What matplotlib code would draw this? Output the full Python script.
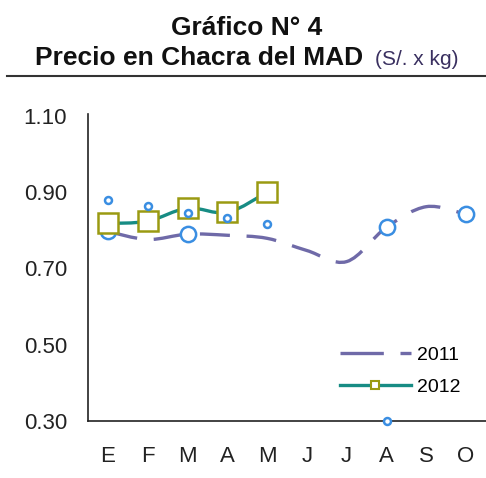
import numpy as np
import matplotlib
matplotlib.use("Agg")
import matplotlib.pyplot as plt
from matplotlib.path import Path
from matplotlib.patches import PathPatch
from matplotlib.lines import Line2D

plt.rcParams['font.family'] = ['Liberation Sans', 'DejaVu Sans']

months = ['E', 'F', 'M', 'A', 'M', 'J', 'J', 'A', 'S', 'O']
p2011 = [0.797, 0.776, 0.790, 0.787, 0.779, 0.747, 0.718, 0.808, 0.862, 0.842]
p2011_marked = [0, 2, 7, 9]
p2012 = [0.818, 0.824, 0.858, 0.847, 0.900]
p_other = [0.879, 0.863, 0.845, 0.832, 0.816, np.nan, np.nan, 0.30, np.nan, np.nan]
yticks = [0.30, 0.50, 0.70, 0.90, 1.10]

W, H = 486, 478
fig = plt.figure(figsize=(W / 100, H / 100), dpi=100)
ax = fig.add_axes([88 / W, (H - 421) / H, (W - 88) / W, (421 - 114) / H])

def smooth_path(xs, ys):
    pts = np.column_stack([xs, ys]).astype(float)
    verts = [pts[0]]
    codes = [Path.MOVETO]
    n = len(pts)
    for i in range(n - 1):
        p0 = pts[i - 1] if i > 0 else pts[i]
        p1 = pts[i]
        p2 = pts[i + 1]
        p3 = pts[i + 2] if i + 2 < n else pts[i + 1]
        c1 = p1 + (p2 - p0) / 6.0
        c2 = p2 - (p3 - p1) / 6.0
        verts += [c1, c2, p2]
        codes += [Path.CURVE4] * 3
    return Path(verts, codes)

c2011 = '#6f6aa8'
c2012 = '#178c84'
csq = '#9a9a12'
ccirc = '#3a8ee2'

x = np.arange(len(months))
# 2011 dashed smooth line
ax.add_patch(PathPatch(smooth_path(x, p2011), fill=False, edgecolor=c2011,
                       lw=2.4, linestyle=(0, (9, 5)), capstyle='butt', zorder=2))
ax.plot([x[i] for i in p2011_marked], [p2011[i] for i in p2011_marked], 'o', ms=11,
        mfc='white', mec=ccirc, mew=1.8, zorder=3)
# 2012
x12 = np.arange(len(p2012))
ax.add_patch(PathPatch(smooth_path(x12, p2012), fill=False, edgecolor=c2012,
                       lw=2.4, zorder=4))
ax.plot(x12, p2012, 's', ms=15, mfc='white', mec=csq, mew=1.8, zorder=5)
# other points
ax.plot(x, p_other, 'o', ms=5, mfc='white', mec=ccirc, mew=1.8, zorder=6, clip_on=False)

ax.set_xlim(-0.5, len(months) - 0.5)
ax.set_ylim(0.30, 1.105)
ax.set_xticks(x)
ax.set_xticklabels(months)
ax.set_yticks(yticks)
ax.set_yticklabels([f'{v:.2f}' for v in yticks])
ax.tick_params(length=0, labelsize=16, colors='#222222')
ax.tick_params(axis='y', pad=15)
ax.tick_params(axis='x', pad=18)
for s in ['top', 'right']:
    ax.spines[s].set_visible(False)
for s in ['left', 'bottom']:
    ax.spines[s].set_color('#222222')
    ax.spines[s].set_linewidth(1.2)

handles = [Line2D([], [], color=c2011, lw=2.4, linestyle=(0, (13, 5))),
           Line2D([], [], color=c2012, lw=2.4, marker='s', ms=6, mfc='white', mec=csq, mew=1.5)]
fig.legend(handles, ['2011', '2012'], loc='center left', frameon=False,
           bbox_to_anchor=(322 / W, 1 - 371 / H), fontsize=14, handlelength=3.7,
           handletextpad=0.3, labelspacing=0.75)

fig.text(247 / W, 1 - 35 / H, 'Gráfico N° 4', ha='center', va='baseline',
         fontsize=19, fontweight='bold', color='#111111')
fig.text(35 / W, 1 - 65 / H, 'Precio en Chacra del MAD', ha='left', va='baseline',
         fontsize=19, fontweight='bold', color='#111111')
fig.text(375 / W, 1 - 65 / H, '(S/. x kg)', ha='left', va='baseline',
         fontsize=15, color='#3a3060')
fig.add_artist(Line2D([7 / W, 1.0], [1 - 76 / H, 1 - 76 / H], color='#333333', lw=1.5,
                      transform=fig.transFigure))

fig.savefig('out.png', dpi=100)
